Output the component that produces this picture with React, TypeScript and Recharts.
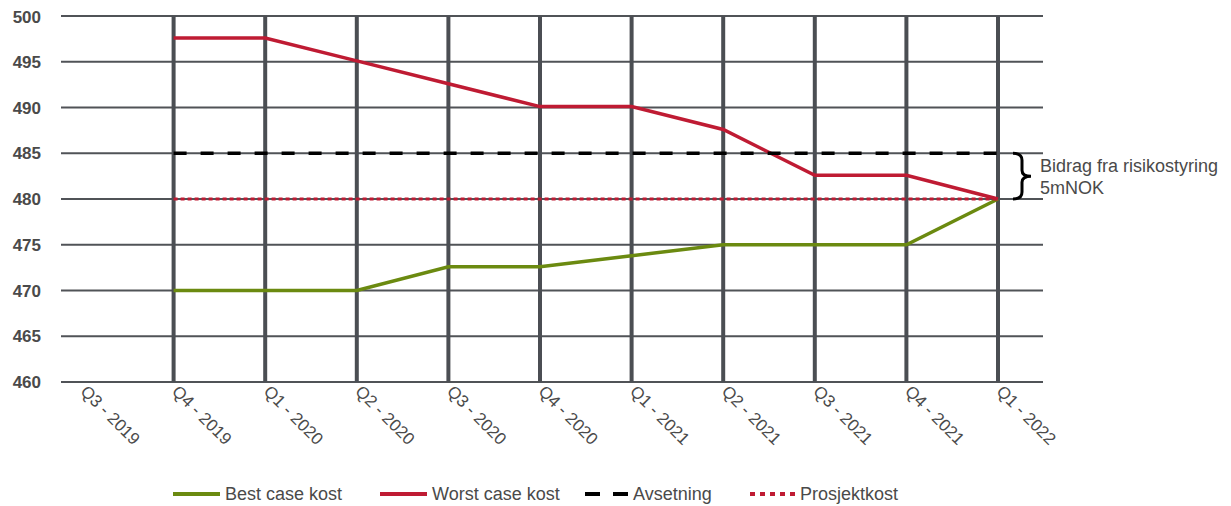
import { LineChart, Line, XAxis, YAxis, CartesianGrid, ReferenceLine, ReferenceArea, Legend } from 'recharts';

const quarters = ['Q3 - 2019', 'Q4 - 2019', 'Q1 - 2020', 'Q2 - 2020', 'Q3 - 2020', 'Q4 - 2020', 'Q1 - 2021', 'Q2 - 2021', 'Q3 - 2021', 'Q4 - 2021', 'Q1 - 2022'];
const bestCase = [null, 470, 470, 470, 472.6, 472.6, 473.8, 475, 475, 475, 480];
const worstCase = [null, 497.6, 497.6, 495.1, 492.6, 490.1, 490.1, 487.6, 482.6, 482.6, 480];
const avsetning = [null, 485, 485, 485, 485, 485, 485, 485, 485, 485, 485];
const prosjektkost = [null, 480, 480, 480, 480, 480, 480, 480, 480, 480, 480];
const yTicks = [460, 465, 470, 475, 480, 485, 490, 495, 500];
const gridQuarters = quarters.slice(1);

const GREEN = '#6b8a10';
const RED = '#bf1b33';
const GRID = '#4b4e53';
const TEXT = '#4a4a4a';
const FONT = 'Liberation Sans, Arial, sans-serif';

const data = quarters.map((q, i) => ({
  quarter: q,
  best: bestCase[i],
  worst: worstCase[i],
  avsetning: avsetning[i],
  prosjekt: prosjektkost[i],
}));

// legend swatches: left offset, swatch width, dash pattern
const legendItems = [
  { label: 'Best case kost', color: GREEN, dash: undefined, left: 165, width: 47 },
  { label: 'Worst case kost', color: RED, dash: undefined, left: 372, width: 47 },
  { label: 'Avsetning', color: '#000', dash: '15 13', left: 577, width: 43 },
  { label: 'Prosjektkost', color: RED, dash: '5 5', left: 742, width: 45 },
];

function XTick({ x, y, payload }: any) {
  return (
    <text
      x={x + 6}
      y={y - 6}
      transform={`rotate(45 ${x + 6} ${y - 6})`}
      fill={TEXT}
      fontSize={17}
      fontFamily={FONT}
      textAnchor="start"
      dominantBaseline="hanging"
    >
      {payload.value}
    </text>
  );
}

function YTick({ x, y, payload }: any) {
  return (
    <text x={x - 12} y={y} dy={6} fill={TEXT} fontSize={17} fontWeight="bold" fontFamily={FONT} textAnchor="end">
      {payload.value}
    </text>
  );
}

function Brace({ x, y, height }: any) {
  const bx = x + 15;
  const mid = y + height / 2;
  return (
    <g>
      <path
        d={`M ${bx} ${y} Q ${bx + 9} ${y} ${bx + 9} ${y + 7} L ${bx + 9} ${mid - 6} Q ${bx + 9} ${mid} ${bx + 18} ${mid} Q ${bx + 9} ${mid} ${bx + 9} ${mid + 6} L ${bx + 9} ${y + height - 7} Q ${bx + 9} ${y + height} ${bx} ${y + height}`}
        fill="none"
        stroke="#000"
        strokeWidth={3}
      />
      <text x={x + 42} y={mid - 4} fill={TEXT} fontSize={18} fontFamily={FONT}>
        Bidrag fra risikostyring
      </text>
      <text x={x + 42} y={mid + 18} fill={TEXT} fontSize={18} fontFamily={FONT}>
        5mNOK
      </text>
    </g>
  );
}

function LegendContent() {
  return (
    <div style={{ position: 'relative', height: 34, fontFamily: FONT, fontSize: 18, color: TEXT }}>
      {legendItems.map((item) => (
        <div key={item.label} style={{ display: 'flex', alignItems: 'center', position: 'absolute', left: item.left, top: 11, height: 22, whiteSpace: 'nowrap' }}>
          <svg width={item.width} height={10} style={{ marginRight: 5 }}>
            <line x1={0} y1={5} x2={item.width} y2={5} stroke={item.color} strokeWidth={4} strokeDasharray={item.dash} />
          </svg>
          <span>{item.label}</span>
        </div>
      ))}
    </div>
  );
}

export default function App() {
  return (
    <div style={{ width: 1215, height: 498, background: '#fff' }}>
      <LineChart width={1215} height={498} data={data} margin={{ top: 8, right: 180, left: 0, bottom: 0 }}>
        <CartesianGrid vertical={false} stroke="#505357" strokeWidth={2} />
        {gridQuarters.map((q) => (
          <ReferenceLine key={q} x={q} stroke={GRID} strokeWidth={4} />
        ))}
        <XAxis
          dataKey="quarter"
          axisLine={false}
          tickLine={false}
          tick={<XTick />}
          height={90}
          interval={0}
          padding={{ left: 21, right: 45 }}
        />
        <YAxis
          domain={[460, 500]}
          ticks={yTicks}
          axisLine={false}
          tickLine={false}
          tick={<YTick />}
          width={53}
        />
        <Line dataKey="best" stroke={GREEN} strokeWidth={3.5} dot={false} isAnimationActive={false} />
        <Line dataKey="worst" stroke={RED} strokeWidth={3.5} dot={false} isAnimationActive={false} />
        <Line dataKey="avsetning" stroke="#000" strokeWidth={3.5} strokeDasharray="13 14" dot={false} isAnimationActive={false} />
        <Line dataKey="prosjekt" stroke={RED} strokeWidth={3} strokeDasharray="4 3" dot={false} isAnimationActive={false} />
        <ReferenceArea
          x1="Q1 - 2022"
          x2="Q1 - 2022"
          y1={480}
          y2={485}
          ifOverflow="visible"
          shape={<Brace />}
        />
        <Legend verticalAlign="bottom" height={34} content={<LegendContent />} />
      </LineChart>
    </div>
  );
}
